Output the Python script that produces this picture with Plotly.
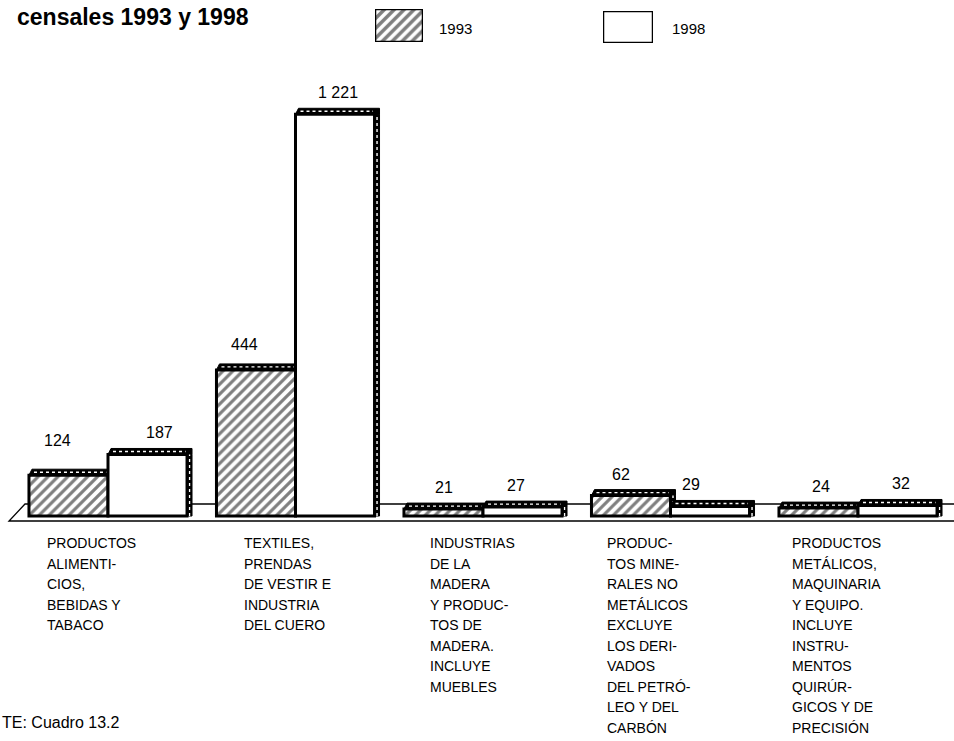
import plotly.graph_objects as go

# ---- data -------------------------------------------------------------
CATEGORY_LINES = [
    ["PRODUCTOS", "ALIMENTI-", "CIOS,", "BEBIDAS Y", "TABACO"],
    ["TEXTILES,", "PRENDAS", "DE VESTIR E", "INDUSTRIA", "DEL CUERO"],
    ["INDUSTRIAS", "DE LA", "MADERA", "Y PRODUC-", "TOS DE", "MADERA.",
     "INCLUYE", "MUEBLES"],
    ["PRODUC-", "TOS MINE-", "RALES NO", "METÁLICOS", "EXCLUYE", "LOS DERI-",
     "VADOS", "DEL PETRÓ-", "LEO Y DEL", "CARBÓN"],
    ["PRODUCTOS", "METÁLICOS,", "MAQUINARIA", "Y EQUIPO.", "INCLUYE",
     "INSTRU-", "MENTOS", "QUIRÚR-", "GICOS Y DE", "PRECISIÓN"],
]
SERIES_NAMES = ["1993", "1998"]
VALUES_1993 = [124, 444, 21, 62, 24]
VALUES_1998 = [187, 1221, 27, 29, 32]
TITLE = "censales 1993 y 1998"
SOURCE = "TE: Cuadro 13.2"

# ---- geometry / style -------------------------------------------------
W, H = 954, 741
PLOT_H = 530                 # plot area height (top margin 0)
X_PX = 187.5                 # pixels per category step
X0_PX = 108                  # pixel column of category 0
Y_PX = 0.329                 # pixels per unit of value
BASE_PX = 516                # pixel row of value 0
BARGAP = 0.157
BAR_W = (1 - BARGAP) / 2
DX_PX, DY_PX = 5, 6          # depth of the pseudo-3D faces
DX = DX_PX / X_PX
FONT = "Liberation Sans, Arial, Helvetica, sans-serif"
INK = "black"
LINE_STEP = 20.5             # spacing of the category label lines (px)
LINE_TOP = 27                # first label line below the baseline (px)

# hand placement of the printed labels (pixel nudges)
VALUE_NUDGE_93 = [(-11, 13), (-11, 4), (1, 0), (-10, 0), (3, 0)]
VALUE_NUDGE_98 = [(12, 0), (3, 0), (-7, 0), (-19, 0), (3, 0)]
CATEGORY_X_PX = [-63, -54, -55, -66, -68]

x_range = [-X0_PX / X_PX, (W - X0_PX) / X_PX]
y_range = [-(PLOT_H - BASE_PX) / Y_PX, BASE_PX / Y_PX]

hatch = dict(shape="/", fgcolor=INK, bgcolor="white", size=7, solidity=0.45)
xs = list(range(len(VALUES_1993)))

fig = go.Figure()
fig.add_trace(go.Bar(
    x=xs, y=VALUES_1993, name=SERIES_NAMES[0], offsetgroup="a",
    marker=dict(color="white", pattern=hatch, line=dict(color=INK, width=3)),
    showlegend=False, hoverinfo="skip"))
fig.add_trace(go.Bar(
    x=xs, y=VALUES_1998, name=SERIES_NAMES[1], offsetgroup="b",
    marker=dict(color="white", line=dict(color=INK, width=3)),
    showlegend=False, hoverinfo="skip"))

shapes = []
# floor plane (drawn behind the bars)
shapes.append(dict(
    type="path", xref="x", yref="y", xsizemode="pixel", ysizemode="pixel",
    xanchor=x_range[0], yanchor=0, layer="below",
    path="M 9,-5 L 958,-5 L 975,12 L 25,12 Z",
    fillcolor="white", line=dict(color=INK, width=1.3)))


def faces(xl, xr, v, lo):
    """Top and side faces of one bar; the bars themselves hide what is behind."""
    out = [
        dict(type="path", xref="x", yref="y", ysizemode="pixel", yanchor=v,
             layer="below",
             path=f"M {xl},0 L {xl + DX * 0.6},{DY_PX} L {xr + DX},{DY_PX} "
                  f"L {xr + DX},0 L {xr},0 Z",
             fillcolor=INK, line=dict(color=INK, width=1)),
        dict(type="path", xref="x", yref="y", ysizemode="pixel", yanchor=v,
             layer="below",
             path=f"M {xl + DX},{DY_PX / 2} L {xr - DX * 0.3},{DY_PX / 2}",
             line=dict(color="white", width=1.4, dash="dot")),
    ]
    if v > lo:
        out.append(dict(type="rect", xref="x", yref="y", layer="below",
                        x0=xr, x1=xr + DX, y0=lo, y1=v,
                        fillcolor=INK, line=dict(color=INK, width=1)))
        out.append(dict(type="line", xref="x", yref="y", layer="below",
                        x0=xr + DX / 2, x1=xr + DX / 2, y0=lo, y1=v,
                        line=dict(color="white", width=1.4, dash="dot")))
    return out


annotations = []
for i, (a, b) in enumerate(zip(VALUES_1993, VALUES_1998)):
    xl_a, xr_a = i - BAR_W, i
    xl_b, xr_b = i, i + BAR_W
    shapes += faces(xl_a, xr_a, a, 0)
    shapes += faces(xl_b, xr_b, b, 0)
    for xc, v, (nx, ny) in ((i - BAR_W / 2, a, VALUE_NUDGE_93[i]),
                            (i + BAR_W / 2, b, VALUE_NUDGE_98[i])):
        annotations.append(dict(
            x=xc, y=v, xref="x", yref="y", text=f"{v:,}".replace(",", " "),
            showarrow=False, xanchor="center", yanchor="bottom",
            xshift=nx, yshift=DY_PX + 5 + ny,
            font=dict(family=FONT, size=16, color=INK)))
    for k, line in enumerate(CATEGORY_LINES[i]):
        annotations.append(dict(
            x=i, y=0, xref="x", yref="y", text=line, showarrow=False,
            xanchor="left", yanchor="middle", xshift=CATEGORY_X_PX[i],
            yshift=-(LINE_TOP + LINE_STEP * k),
            font=dict(family=FONT, size=14, color=INK)))

# legend swatches on their own small axes
legend_boxes = [
    ("x2", "y2", (375, 423), (9, 42), hatch | dict(solidity=0.5)),
    ("x3", "y3", (603, 653), (11, 43), None),
]
for xa, ya, (px0, px1), (py0, py1), pat in legend_boxes:
    marker = dict(color="white", line=dict(color=INK, width=2.5))
    if pat:
        marker["pattern"] = pat
    fig.add_trace(go.Bar(x=[0.5], y=[1], width=[1], xaxis=xa, yaxis=ya,
                         marker=marker, cliponaxis=False, showlegend=False,
                         hoverinfo="skip"))
    n = xa[1:]
    fig.layout[f"xaxis{n}"] = dict(domain=[px0 / W, px1 / W], range=[0, 1],
                                   visible=False, anchor=ya, fixedrange=True)
    fig.layout[f"yaxis{n}"] = dict(domain=[1 - py1 / PLOT_H, 1 - py0 / PLOT_H],
                                   range=[0, 1], visible=False, anchor=xa,
                                   fixedrange=True)

for name, px, py in ((SERIES_NAMES[0], 437, 29), (SERIES_NAMES[1], 670, 29)):
    annotations.append(dict(
        x=px / W, y=1 - py / PLOT_H, xref="paper", yref="paper", text=name,
        showarrow=False, xanchor="left", yanchor="middle",
        font=dict(family=FONT, size=15, color=INK)))

annotations.append(dict(
    x=15 / W, y=1 - 17 / PLOT_H, xref="paper", yref="paper",
    text=f"<b>{TITLE}</b>", showarrow=False, xanchor="left", yanchor="middle",
    font=dict(family=FONT, size=23, color=INK)))
annotations.append(dict(
    x=0, y=1 - 722 / PLOT_H, xref="paper", yref="paper", text=SOURCE,
    showarrow=False, xanchor="left", yanchor="middle",
    font=dict(family=FONT, size=16, color=INK)))

fig.update_layout(
    width=W, height=H, barmode="group", bargap=BARGAP, bargroupgap=0,
    margin=dict(l=0, r=0, t=0, b=H - PLOT_H, pad=0),
    paper_bgcolor="white", plot_bgcolor="white",
    xaxis=dict(range=x_range, visible=False, fixedrange=True),
    yaxis=dict(range=y_range, visible=False, fixedrange=True),
    shapes=shapes, annotations=annotations, showlegend=False,
)

fig.write_html("out.html")
